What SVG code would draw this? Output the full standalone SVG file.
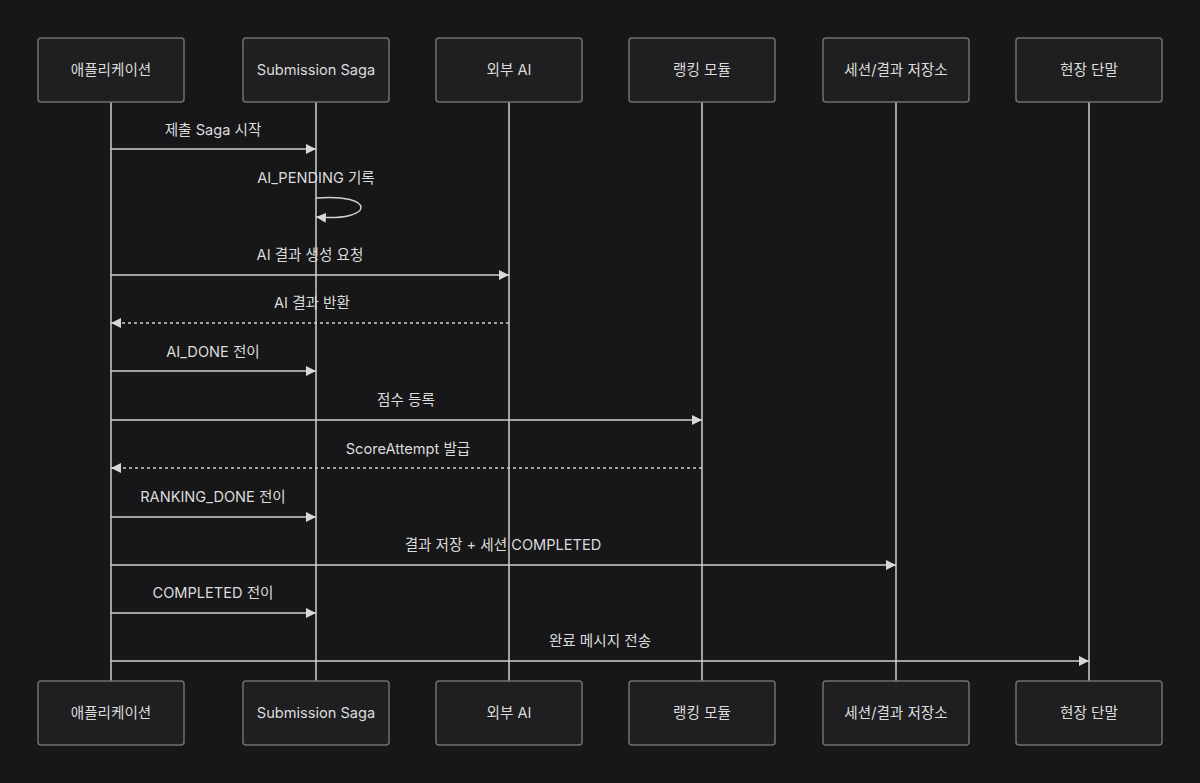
<svg xmlns="http://www.w3.org/2000/svg" width="1200" height="783" viewBox="0 0 1200 783">
<defs>
<style>
.bg{fill:#171618}
.box{fill:#1f1f21;stroke:#707072;stroke-width:1.5}
.t{font-family:Inter,"Noto Sans","Noto Sans CJK KR",sans-serif;font-size:14.6px;fill:#dcdcdc;text-anchor:middle}
.life{stroke:#d0d0d0;stroke-width:1.5;fill:none}
.msg{stroke:#d0d0d0;stroke-width:1.5;fill:none}
.dot{stroke-dasharray:3 3}
</style>
<marker id="ah" viewBox="0 0 10 10" refX="10" refY="5" markerWidth="10" markerHeight="10" markerUnits="userSpaceOnUse" orient="auto">
<path d="M0,0 L10,5 L0,10 Z" fill="#d8d8d8"/>
</marker>
</defs>
<rect class="bg" x="0" y="0" width="1200" height="783"/>
<g id="lifelines">
<line class="life" x1="111" y1="102" x2="111" y2="681"/>
<line class="life" x1="316" y1="102" x2="316" y2="681"/>
<line class="life" x1="509" y1="102" x2="509" y2="681"/>
<line class="life" x1="702" y1="102" x2="702" y2="681"/>
<line class="life" x1="896" y1="102" x2="896" y2="681"/>
<line class="life" x1="1089" y1="102" x2="1089" y2="681"/>
</g>
<g id="app">
<rect class="box" x="38" y="38" width="146" height="64" rx="3"/><text class="t" x="111" y="75">애플리케이션</text>
<rect class="box" x="38" y="681" width="146" height="64" rx="3"/><text class="t" x="111" y="718">애플리케이션</text>
</g>
<g id="saga">
<rect class="box" x="243" y="38" width="146" height="64" rx="3"/><text class="t" x="316" y="75">Submission Saga</text>
<rect class="box" x="243" y="681" width="146" height="64" rx="3"/><text class="t" x="316" y="718">Submission Saga</text>
</g>
<g id="ai">
<rect class="box" x="436" y="38" width="146" height="64" rx="3"/><text class="t" x="509" y="75">외부 AI</text>
<rect class="box" x="436" y="681" width="146" height="64" rx="3"/><text class="t" x="509" y="718">외부 AI</text>
</g>
<g id="ranking">
<rect class="box" x="629" y="38" width="146" height="64" rx="3"/><text class="t" x="702" y="75">랭킹 모듈</text>
<rect class="box" x="629" y="681" width="146" height="64" rx="3"/><text class="t" x="702" y="718">랭킹 모듈</text>
</g>
<g id="store">
<rect class="box" x="823" y="38" width="146" height="64" rx="3"/><text class="t" x="896" y="75">세션/결과 저장소</text>
<rect class="box" x="823" y="681" width="146" height="64" rx="3"/><text class="t" x="896" y="718">세션/결과 저장소</text>
</g>
<g id="terminal">
<rect class="box" x="1016" y="38" width="146" height="64" rx="3"/><text class="t" x="1089" y="75">현장 단말</text>
<rect class="box" x="1016" y="681" width="146" height="64" rx="3"/><text class="t" x="1089" y="718">현장 단말</text>
</g>
<g id="connectors">
<line class="msg" x1="111" y1="149" x2="316" y2="149" marker-end="url(#ah)"/>
<text class="t" x="213" y="135">제출 Saga 시작</text>
<path class="msg" d="M316,198 C376,193 376,222 316,217" marker-end="url(#ah)"/>
<text class="t" x="316" y="183">AI_PENDING 기록</text>
<line class="msg" x1="111" y1="275" x2="509" y2="275" marker-end="url(#ah)"/>
<text class="t" x="310" y="260">AI 결과 생성 요청</text>
<line class="msg dot" x1="509" y1="323" x2="111" y2="323" marker-end="url(#ah)"/>
<text class="t" x="312" y="308">AI 결과 반환</text>
<line class="msg" x1="111" y1="371" x2="316" y2="371" marker-end="url(#ah)"/>
<text class="t" x="213" y="357">AI_DONE 전이</text>
<line class="msg" x1="111" y1="420" x2="702" y2="420" marker-end="url(#ah)"/>
<text class="t" x="406" y="405">점수 등록</text>
<line class="msg dot" x1="702" y1="468" x2="111" y2="468" marker-end="url(#ah)"/>
<text class="t" x="408" y="454">ScoreAttempt 발급</text>
<line class="msg" x1="111" y1="517" x2="316" y2="517" marker-end="url(#ah)"/>
<text class="t" x="213" y="502">RANKING_DONE 전이</text>
<line class="msg" x1="111" y1="565" x2="896" y2="565" marker-end="url(#ah)"/>
<text class="t" x="503" y="550">결과 저장 + 세션 COMPLETED</text>
<line class="msg" x1="111" y1="613" x2="316" y2="613" marker-end="url(#ah)"/>
<text class="t" x="213" y="598">COMPLETED 전이</text>
<line class="msg" x1="111" y1="661" x2="1089" y2="661" marker-end="url(#ah)"/>
<text class="t" x="600" y="646">완료 메시지 전송</text>
</g>
</svg>
